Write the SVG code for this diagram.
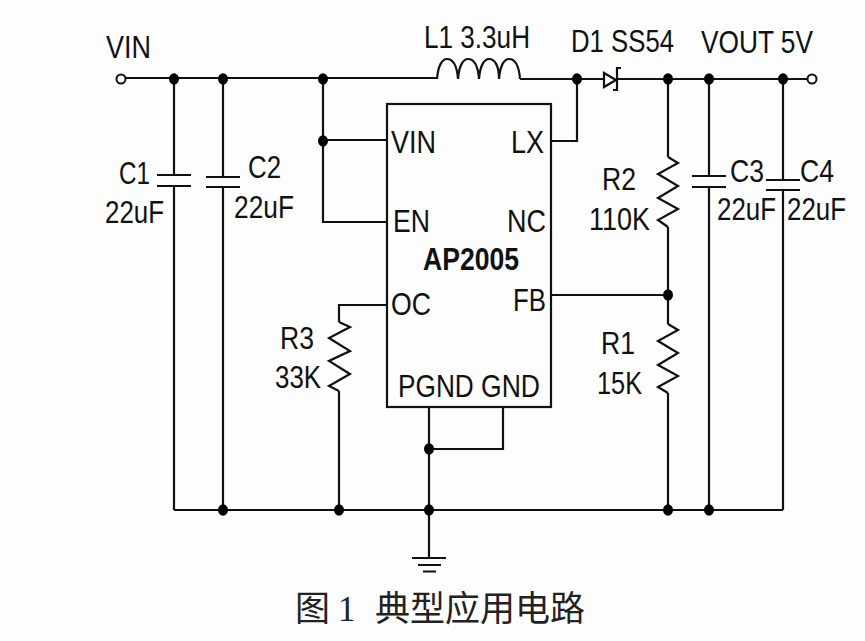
<svg xmlns="http://www.w3.org/2000/svg" width="865" height="641" viewBox="0 0 865 641">
<style>
.w{fill:none;stroke:#111;stroke-width:2.2;stroke-linejoin:miter}
.d{fill:#000;rx:5px;ry:5.800px}
text{font-family:"Liberation Sans",Arial,sans-serif;font-size:32px;fill:#111}
.cap{font-family:"Liberation Serif","Noto Sans CJK SC",serif;font-size:35px;fill:#222}
</style>
<rect width="865" height="641" fill="#fdfdfd"/>
<g id="connectors">
<path class="w" d="M126 78H437M520 79H604M616 79H668M668 79H807"/>
<path class="w" d="M174 79V175M174 186V510M223 79V177M223 187V510M709 79V176M709 187V510M783 79V180M783 190V510"/>
<path class="w" d="M323 79V222H387M323 140H387M551 141H577V79M551 295H668"/>
<path class="w" d="M668 79V157M668 227V324M668 393V510"/>
<path class="w" d="M387 305H339V322M339 391V510"/>
<path class="w" d="M429 407V558M503 407V449H429M174 510H783"/>
</g>
<g id="VIN_terminal"><circle cx="121" cy="79" r="4.500" fill="#fff" stroke="#111" stroke-width="2"/><text x="106" y="58" textLength="45" lengthAdjust="spacingAndGlyphs">VIN</text></g>
<g id="VOUT_terminal"><circle cx="812" cy="79" r="4.500" fill="#fff" stroke="#111" stroke-width="2"/><text x="701" y="53" textLength="112" lengthAdjust="spacingAndGlyphs">VOUT 5V</text></g>
<g id="L1"><path class="w" d="M437 79C438 66 442 59 447 59C453 59 457 66 458 79C459 66 463 59 468 59C474 59 478 66 479 79C480 66 484 59 489 59C495 59 499 66 499 79C500 66 504 59 509 59C515 59 519 66 520 79"/><text x="424" y="48" textLength="106" lengthAdjust="spacingAndGlyphs">L1 3.3uH</text></g>
<g id="D1"><path class="w" d="M604 73V87L616 80ZM621 68H617V90H613"/><text x="571" y="52" textLength="103" lengthAdjust="spacingAndGlyphs">D1 SS54</text></g>
<g id="C1"><path class="w" d="M157 175H191M157 186H191"/><text x="119" y="184" textLength="31" lengthAdjust="spacingAndGlyphs">C1</text><text x="105" y="223" textLength="59" lengthAdjust="spacingAndGlyphs">22uF</text></g>
<g id="C2"><path class="w" d="M206 177H240M206 187H240"/><text x="248" y="178" textLength="33" lengthAdjust="spacingAndGlyphs">C2</text><text x="234" y="218" textLength="60" lengthAdjust="spacingAndGlyphs">22uF</text></g>
<g id="C3"><path class="w" d="M692 176H726M692 187H726"/><text x="730" y="182" textLength="34" lengthAdjust="spacingAndGlyphs">C3</text><text x="717" y="220" textLength="59" lengthAdjust="spacingAndGlyphs">22uF</text></g>
<g id="C4"><path class="w" d="M766 180H800M766 190H800"/><text x="800" y="182" textLength="34" lengthAdjust="spacingAndGlyphs">C4</text><text x="787" y="220" textLength="59" lengthAdjust="spacingAndGlyphs">22uF</text></g>
<g id="R2"><path class="w" d="M668 157L678 163L658 174L678 186L658 198L678 209L658 220L668 227"/><text x="602" y="190" textLength="34" lengthAdjust="spacingAndGlyphs">R2</text><text x="589" y="230" textLength="61" lengthAdjust="spacingAndGlyphs">110K</text></g>
<g id="R1"><path class="w" d="M668 324L678 330L658 341L678 353L658 365L678 376L658 387L668 393"/><text x="601" y="354" textLength="34" lengthAdjust="spacingAndGlyphs">R1</text><text x="597" y="394" textLength="45" lengthAdjust="spacingAndGlyphs">15K</text></g>
<g id="R3"><path class="w" d="M339 322L350 327L329 338L350 351L329 361L350 374L329 386L339 391"/><text x="280" y="349" textLength="34" lengthAdjust="spacingAndGlyphs">R3</text><text x="275" y="388" textLength="46" lengthAdjust="spacingAndGlyphs">33K</text></g>
<g id="AP2005"><rect class="w" x="387" y="104" width="164" height="303"/>
<text x="391" y="153" textLength="45" lengthAdjust="spacingAndGlyphs">VIN</text>
<text x="511" y="153" textLength="33" lengthAdjust="spacingAndGlyphs">LX</text>
<text x="393" y="232" textLength="37" lengthAdjust="spacingAndGlyphs">EN</text>
<text x="507" y="232" textLength="39" lengthAdjust="spacingAndGlyphs">NC</text>
<text x="423" y="270" textLength="96" lengthAdjust="spacingAndGlyphs" font-weight="bold">AP2005</text>
<text x="391" y="315" textLength="40" lengthAdjust="spacingAndGlyphs">OC</text>
<text x="513" y="311" textLength="33" lengthAdjust="spacingAndGlyphs">FB</text>
<text transform="translate(398 397) scale(.82 1)">PGND</text>
<text transform="translate(481 397) scale(.83 1)">GND</text></g>
<g id="GND_symbol"><path class="w" d="M412 558H446M418 565H441M423 571.500H436"/></g>
<g id="junctions">
<ellipse class="d" cx="174" cy="79"/><ellipse class="d" cx="223" cy="79"/><ellipse class="d" cx="323" cy="79"/><ellipse class="d" cx="577" cy="79"/><ellipse class="d" cx="668" cy="79"/><ellipse class="d" cx="709" cy="79"/><ellipse class="d" cx="783" cy="79"/>
<ellipse class="d" cx="323" cy="141"/><ellipse class="d" cx="668" cy="295"/><ellipse class="d" cx="429" cy="449"/>
<ellipse class="d" cx="223" cy="510"/><ellipse class="d" cx="339" cy="510"/><ellipse class="d" cx="429" cy="510"/><ellipse class="d" cx="668" cy="510"/><ellipse class="d" cx="709" cy="510"/>
</g>
<g id="caption"><text class="cap" x="295" y="621">图</text><text class="cap" x="338" y="621">1</text><text class="cap" x="375" y="621">典型应用电路</text></g>
</svg>
